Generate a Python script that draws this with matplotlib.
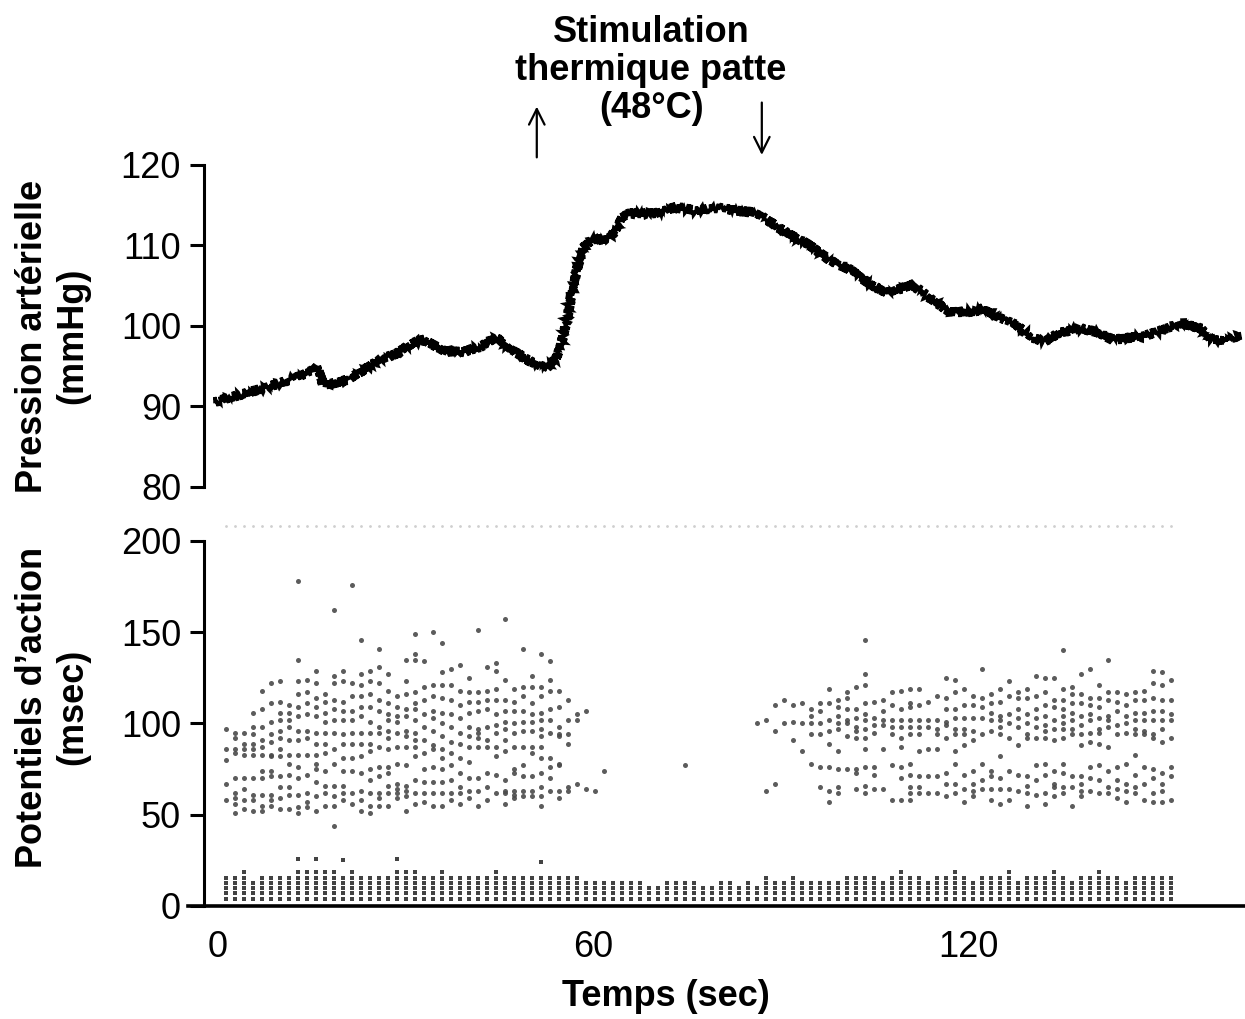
import matplotlib
matplotlib.use('Agg')
import matplotlib.pyplot as plt

plt.rcParams['font.family'] = ['Liberation Sans', 'DejaVu Sans']

# --- pression arterielle (mmHg) ---
bp_time = [-0.5, 2.0, 4.6, 7.0, 9.9, 12.5, 15.2, 15.8, 16.8, 18.5, 20.6, 23.2,
           25.9, 28.6, 31.2, 32.8, 35.0, 36.6, 39.2, 41.9, 44.6, 47.2, 49.9,
           52.6, 54.2, 55.2, 56.3, 57.4, 58.4, 60.0, 62.5, 63.8, 64.4, 65.8,
           69.8, 73.4, 76.5, 79.8, 83.1, 86.1, 87.8, 91.1, 94.5, 97.8, 101.1,
           104.5, 107.1, 111.1, 114.4, 117.1, 121.1, 122.4, 125.1, 127.8,
           130.4, 132.4, 134.4, 137.8, 140.4, 143.1, 147.8, 150.4, 154.4,
           157.1, 159.1, 161.1, 163.5]
bp_mmhg = [90.6, 91.1, 91.7, 92.2, 92.9, 93.6, 94.5, 95.0, 92.7, 92.9, 93.3,
           94.5, 95.8, 96.6, 97.9, 98.3, 97.4, 96.8, 96.8, 97.4, 98.5, 97.0,
           95.6, 94.8, 96.0, 98.7, 102.8, 107.0, 109.7, 110.7, 110.9, 111.9,
           113.4, 114.0, 114.0, 114.8, 114.3, 114.7, 114.3, 114.1, 113.2,
           111.5, 110.1, 108.2, 107.0, 105.1, 104.1, 105.1, 103.2, 101.7,
           101.8, 102.2, 101.0, 100.1, 98.5, 98.05, 99.1, 99.7, 99.3, 98.3,
           98.7, 99.3, 100.3, 99.7, 98.3, 98.05, 98.9]

# --- potentiels d'action (msec), une colonne par balayage ---
sweep_t0 = 1.28
sweep_dt = 1.44
n_sweeps = 106

# colonnes 0..42
upper_seg1 = [
    [97, 86, 80, 67, 58],
    [95, 92, 86, 84, 70, 62, 59, 56, 51],
    [95, 89, 86, 83, 70, 64, 58, 53],
    [106, 98, 94, 89, 86, 83, 70, 61, 58, 52],
    [118, 108, 98, 91, 87, 83, 74, 70, 61, 55, 52],
    [122, 111, 101, 94, 90, 83, 82, 74, 71, 61, 58, 55],
    [123, 112, 106, 102, 96, 92, 86, 82, 71, 65, 59, 53],
    [110, 106, 102, 98, 91, 83, 78, 72, 65, 61, 53],
    [178, 135, 123, 116, 109, 104, 96, 91, 83, 76, 70, 61, 54, 51],
    [124, 117, 111, 105, 96, 92, 83, 72, 62, 57, 54],
    [129, 122, 114, 109, 104, 95, 89, 83, 78, 75, 68, 60, 52],
    [116, 112, 106, 101, 95, 89, 84, 74, 66, 62, 55],
    [162, 126, 122, 113, 108, 102, 95, 86, 78, 66, 60, 55, 44],
    [129, 123, 112, 107, 102, 94, 89, 81, 74, 66, 62, 58],
    [176, 122, 115, 107, 102, 95, 89, 81, 74, 62, 56],
    [146, 127, 121, 115, 109, 104, 95, 89, 82, 73, 63, 58, 52],
    [129, 123, 116, 109, 101, 95, 89, 85, 75, 69, 62, 55, 51],
    [141, 131, 122, 113, 107, 98, 95, 87, 76, 71, 62, 59, 55],
    [127, 118, 111, 105, 102, 96, 92, 86, 76, 73, 66, 62, 55],
    [115, 109, 104, 101, 95, 87, 78, 67, 64, 62, 59],
    [135, 123, 116, 108, 104, 96, 93, 87, 77, 66, 63, 60, 52],
    [149, 138, 135, 117, 111, 108, 102, 95, 91, 87, 82, 69, 62, 56],
    [134, 120, 113, 105, 98, 91, 84, 75, 68, 62, 57],
    [150, 121, 115, 107, 103, 96, 88, 86, 76, 68, 62, 55],
    [144, 128, 121, 114, 106, 100, 93, 86, 81, 75, 68, 62, 55],
    [130, 121, 113, 105, 98, 90, 84, 77, 69, 62, 58],
    [132, 118, 110, 103, 95, 89, 81, 73, 65, 62, 56],
    [125, 117, 112, 106, 98, 93, 87, 79, 70, 63, 59],
    [151, 117, 112, 107, 97, 95, 92, 87, 70, 63, 55],
    [131, 118, 113, 108, 98, 91, 87, 73, 65, 58],
    [133, 129, 119, 113, 105, 99, 95, 87, 82, 72, 62],
    [157, 124, 113, 107, 101, 97, 91, 85, 69, 63, 62, 56],
    [119, 112, 107, 100, 95, 87, 75, 73, 63, 61, 59],
    [141, 120, 115, 107, 101, 96, 87, 77, 71, 63, 60],
    [126, 120, 111, 105, 101, 96, 87, 84, 71, 63, 60],
    [138, 120, 115, 106, 102, 97, 93, 87, 81, 73, 65, 60, 55],
    [134, 124, 118, 108, 102, 95, 81, 76, 70, 63],
    [118, 109, 98, 94, 93, 78, 77, 63, 59],
    [113, 102, 94, 89, 65, 63],
    [105, 102, 67],
    [107, 64],
    [63],
    [74],
]

# colonnes 59..105
seg2_start = 59
upper_seg2 = [
    [100],
    [102, 63],
    [110, 96, 67],
    [113, 100],
    [110, 101, 91],
    [111, 100, 85],
    [108, 104, 100, 94, 78],
    [111, 107, 100, 94, 76, 65],
    [119, 111, 102, 96, 89, 76, 63, 57],
    [113, 109, 104, 100, 97, 85, 75, 65, 62],
    [117, 114, 108, 102, 100, 93, 75],
    [120, 108, 103, 98, 96, 92, 75, 73, 64],
    [146, 127, 121, 111, 105, 102, 97, 92, 86, 76, 66, 62],
    [112, 103, 99, 95, 76, 72, 64],
    [113, 107, 102, 99, 86, 64],
    [117, 110, 102, 98, 94, 77, 58],
    [118, 108, 102, 98, 92, 87, 76, 70, 58],
    [119, 111, 109, 102, 98, 94, 78, 72, 65, 62, 58],
    [119, 110, 102, 98, 94, 85, 71, 65, 62],
    [112, 102, 98, 86, 71, 62],
    [115, 102, 97, 94, 86, 71, 62],
    [125, 114, 108, 101, 99, 92, 73, 67, 60],
    [124, 117, 108, 103, 97, 94, 85, 78, 67, 62],
    [119, 110, 103, 97, 94, 88, 72, 64, 57],
    [115, 110, 103, 96, 91, 74, 67, 63, 60],
    [130, 114, 109, 103, 94, 78, 69, 64],
    [116, 111, 106, 102, 96, 74, 71, 64, 58],
    [119, 112, 104, 102, 98, 94, 82, 70, 64, 56],
    [123, 115, 105, 100, 92, 74, 64, 58],
    [117, 114, 108, 103, 98, 88, 72, 63],
    [119, 114, 105, 100, 94, 92, 71, 66, 62, 55],
    [126, 115, 108, 103, 98, 92, 77, 69, 61],
    [125, 117, 110, 104, 99, 96, 92, 78, 72, 62, 56],
    [125, 113, 109, 102, 97, 91, 74, 67, 65, 60],
    [140, 119, 113, 108, 104, 100, 97, 92, 78, 73, 65, 62],
    [120, 116, 111, 106, 102, 97, 94, 71, 65, 55],
    [127, 116, 111, 104, 99, 94, 88, 71, 67, 63, 60],
    [130, 114, 110, 105, 102, 95, 90, 76, 70, 63],
    [121, 114, 109, 103, 97, 95, 89, 77, 69, 62],
    [135, 117, 113, 104, 102, 98, 87, 74, 65, 62],
    [117, 112, 107, 99, 94, 76, 69, 64, 59],
    [116, 110, 104, 100, 95, 78, 67, 63, 57],
    [117, 113, 106, 102, 97, 94, 83, 72, 65, 62],
    [118, 113, 106, 102, 96, 94, 76, 67, 58],
    [129, 122, 114, 107, 102, 94, 92, 75, 70, 62, 57],
    [128, 121, 113, 107, 102, 97, 90, 73, 67, 63, 57],
    [124, 113, 105, 102, 92, 76, 71, 58],
]

lone_dot = (51, 77)

# bande des intervalles courts (0-20 msec)
band_levels = [4.0, 6.9, 9.8, 12.7, 15.6, 18.5, 21.3]
band_rows = [5, 5, 6, 4, 5, 5, 5, 5, 6, 6,
             6, 6, 6, 5, 6, 5, 5, 5, 5, 6,
             6, 6, 5, 5, 6, 5, 5, 5, 5, 5,
             6, 5, 5, 5, 5, 5, 5, 5, 5, 5,
             4, 4, 4, 4, 4, 4, 4, 3, 3, 4,
             4, 4, 4, 3, 3, 4, 4, 3, 4, 3,
             5, 4, 4, 5, 4, 4, 4, 4, 4, 5,
             5, 5, 5, 4, 5, 6, 5, 5, 4, 5,
             5, 6, 5, 4, 5, 5, 5, 6, 4, 5,
             5, 5, 6, 5, 4, 5, 5, 6, 5, 5,
             4, 5, 5, 5, 5, 5]
band_extra = [(8, 25.5), (10, 25.5), (13, 25.0), (19, 25.5), (35, 24.3)]
top_row_msec = 208

stim_on = 51
stim_off = 87


def sweep_time(i):
    return sweep_t0 + i * sweep_dt


# points du raster
up_x, up_y = [], []
for i, vals in enumerate(upper_seg1):
    for v in vals:
        up_x.append(sweep_time(i))
        up_y.append(v)
for i, vals in enumerate(upper_seg2):
    for v in vals:
        up_x.append(sweep_time(seg2_start + i))
        up_y.append(v)
up_x.append(sweep_time(lone_dot[0]))
up_y.append(lone_dot[1])

band_x, band_y = [], []
for i, n in enumerate(band_rows):
    for lev in band_levels[:n]:
        band_x.append(sweep_time(i))
        band_y.append(lev)
for i, v in band_extra:
    band_x.append(sweep_time(i))
    band_y.append(v)

top_x = [sweep_time(i) for i in range(n_sweeps)]
top_y = [top_row_msec] * n_sweeps

fs = 26
xmin, xmax = -4.8, 164.3
spine_x = -2.24

fig = plt.figure(figsize=(12.45, 10.19), dpi=100)
ax1 = fig.add_axes([0.151, 0.5221, 0.849, 0.316])
ax2 = fig.add_axes([0.151, 0.1109, 0.849, 0.3851])

# -- panneau du haut : pression --
line, = ax1.plot(bp_time, bp_mmhg, color='black', lw=2.4, solid_joinstyle='miter')
line.set_sketch_params(scale=5, length=3, randomness=0.5)
ax1.set_xlim(xmin, xmax)
ax1.set_ylim(80, 120)
for s in ['top', 'right', 'bottom']:
    ax1.spines[s].set_visible(False)
ax1.spines['left'].set_position(('data', spine_x))
ax1.spines['left'].set_linewidth(2.2)
ax1.set_xticks([])
ax1.set_yticks([80, 90, 100, 110, 120])
ax1.tick_params(axis='y', length=10, width=2.2, pad=6.5, labelsize=fs)

# fleches de stimulation
arrow = dict(arrowstyle='->', lw=1.6, color='black', mutation_scale=28)
ax1.annotate('', xy=(stim_on, 127.6), xytext=(stim_on, 120.6),
             arrowprops=arrow, annotation_clip=False)
ax1.annotate('', xy=(stim_off, 120.9), xytext=(stim_off, 128.1),
             arrowprops=arrow, annotation_clip=False)

# -- panneau du bas : raster --
ax2.scatter(top_x, top_y, s=4, color='#cfcfcf', linewidths=0)
ax2.scatter(up_x, up_y, s=13, color='#4a4a4a', linewidths=0, alpha=0.9)
ax2.scatter(band_x, band_y, s=9, color='#2e2e2e', linewidths=0, alpha=0.9,
            marker='s')
ax2.set_xlim(xmin, xmax)
ax2.set_ylim(0, 215)
for s in ['top', 'right']:
    ax2.spines[s].set_visible(False)
ax2.spines['left'].set_position(('data', spine_x))
ax2.spines['left'].set_bounds(0, 200)
ax2.spines['left'].set_linewidth(2.2)
ax2.spines['bottom'].set_linewidth(2.6)
ax2.set_yticks([0, 50, 100, 150, 200])
ax2.set_xticks([0, 60, 120])
ax2.tick_params(axis='y', length=10, width=2.2, pad=6.5, labelsize=fs)
ax2.tick_params(axis='x', length=0, pad=17, labelsize=fs)

# -- textes --
fig.text(0.523, 0.931, 'Stimulation\nthermique patte\n(48°C)', ha='center',
         va='center', fontsize=fs, fontweight='bold', linespacing=1.12)
fig.text(0.042, 0.670, 'Pression artérielle\n(mmHg)', rotation=90, ha='center',
         va='center', fontsize=fs, fontweight='bold', linespacing=1.2)
fig.text(0.042, 0.306, 'Potentiels d\u2019action\n(msec)', rotation=90,
         ha='center', va='center', fontsize=fs, fontweight='bold',
         linespacing=1.2)
fig.text(0.535, 0.0216, 'Temps (sec)', ha='center', va='center', fontsize=fs,
         fontweight='bold')

fig.savefig('out.png', dpi=100)
